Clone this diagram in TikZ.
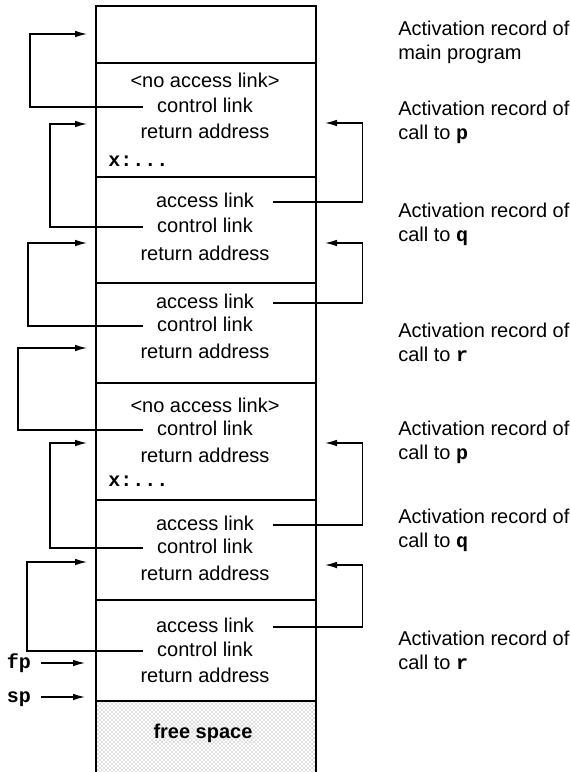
\documentclass[tikz,border=0pt]{standalone}
\usepackage{fontspec}
\setmainfont{Liberation Sans}
\newfontfamily\codefont{Liberation Mono}
\usetikzlibrary{arrows.meta,patterns}

\tikzset{
  rectxt/.style={inner sep=0pt, font=\fontsize{15}{18}\selectfont, text height=11pt, text depth=3pt},
  sidetxt/.style={anchor=west, inner sep=0pt, align=left, font=\fontsize{15}{18}\selectfont},
  codetxt/.style={inner sep=0pt, font=\fontsize{15}{18}\selectfont\codefont\bfseries, text height=11pt, text depth=3pt},
  link/.style={line width=1pt, -{Latex[length=9pt,width=5pt]}},
  frame/.style={line width=1.2pt},
}

\begin{document}
\begin{tikzpicture}[x=0.75pt,y=0.75pt,yscale=-1,xscale=1]
\useasboundingbox (0,0) rectangle (570,772);

%Shape: Free space
\fill [pattern=crosshatch dots, pattern color=black!55] (96,701) rectangle (316,772) ;
%Straight Lines
\draw [frame] (96,772) -- (96,6) -- (316,6) -- (316,772) ;
%Straight Lines
\draw [frame] (96,63) -- (316,63) ;
\draw [frame] (96,177) -- (316,177) ;
\draw [frame] (96,283) -- (316,283) ;
\draw [frame] (96,383) -- (316,383) ;
\draw [frame] (96,500) -- (316,500) ;
\draw [frame] (96,600) -- (316,600) ;
\draw [frame] (96,701) -- (316,701) ;

% Arrow ends
\coordinate (main-in) at (87,34) ;
\coordinate (p1-in) at (87,124) ;
\coordinate (q1-in) at (87,243) ;
\coordinate (r1-in) at (87,348) ;
\coordinate (p2-in) at (87,443) ;
\coordinate (q2-in) at (87,562) ;
\coordinate (p1-acc) at (325,123) ;
\coordinate (q1-acc) at (325,243) ;
\coordinate (p2-acc) at (325,443) ;
\coordinate (q2-acc) at (325,565) ;
\coordinate (fp-in) at (85,663) ;
\coordinate (sp-in) at (85,697) ;

% Text Node
\node (na1) at (205,82) [rectxt] {<no access link>};
% Text Node
\node (cl1) at (205,107) [rectxt] {control link};
% Text Node
\node (ra1) at (205,133) [rectxt] {return address};
% Text Node
\node (x1) at (108,161) [codetxt, anchor=west] {x:...};

% Text Node
\node (al2) at (205,202) [rectxt] {access link};
% Text Node
\node (cl2) at (205,227) [rectxt] {control link};
% Text Node
\node (ra2) at (205,255) [rectxt] {return address};

% Text Node
\node (al3) at (205,303) [rectxt] {access link};
% Text Node
\node (cl3) at (205,326) [rectxt] {control link};
% Text Node
\node (ra3) at (205,353) [rectxt] {return address};

% Text Node
\node (na4) at (205,407) [rectxt] {<no access link>};
% Text Node
\node (cl4) at (205,430) [rectxt] {control link};
% Text Node
\node (ra4) at (205,457) [rectxt] {return address};
% Text Node
\node (x4) at (108,481) [codetxt, anchor=west] {x:...};

% Text Node
\node (al5) at (205,525) [rectxt] {access link};
% Text Node
\node (cl5) at (205,548) [rectxt] {control link};
% Text Node
\node (ra5) at (205,575) [rectxt] {return address};

% Text Node
\node (al6) at (205,627) [rectxt] {access link};
% Text Node
\node (cl6) at (205,651) [rectxt] {control link};
% Text Node
\node (ra6) at (205,677) [rectxt] {return address};

% Text Node
\node (free) at (203,733) [rectxt, font=\fontsize{15}{18}\selectfont\bfseries] {free space};

% Text Node
\node (fp) at (19,663) [codetxt] {fp};
% Text Node
\node (sp) at (19,697) [codetxt] {sp};

% Text Node
\node (lbl-main) at (398,42) [sidetxt] {Activation record of\\main program};
% Text Node
\node (lbl-p1) at (398,122) [sidetxt] {Activation record of\\call to {\codefont\bfseries p}};
% Text Node
\node (lbl-q1) at (398,224) [sidetxt] {Activation record of\\call to {\codefont\bfseries q}};
% Text Node
\node (lbl-r1) at (398,342) [sidetxt] {Activation record of\\call to {\codefont\bfseries r}};
% Text Node
\node (lbl-p2) at (398,442) [sidetxt] {Activation record of\\call to {\codefont\bfseries p}};
% Text Node
\node (lbl-q2) at (398,530) [sidetxt] {Activation record of\\call to {\codefont\bfseries q}};
% Text Node
\node (lbl-r2) at (398,650) [sidetxt] {Activation record of\\call to {\codefont\bfseries r}};

%Straight Lines (control links)
\draw [link, shorten <=10.5pt] (cl1.west) -- ++(-127,0) |- (main-in) ;
\draw [link, shorten <=10.5pt] (cl2.west) -- ++(-107,0) |- (p1-in) ;
\draw [link, shorten <=10.5pt] (cl3.west) -- ++(-129,0) |- (q1-in) ;
\draw [link, shorten <=10.5pt] (cl4.west) -- ++(-139,0) |- (r1-in) ;
\draw [link, shorten <=10.5pt] (cl5.west) -- ++(-107,0) |- (p2-in) ;
\draw [link, shorten <=10.5pt] (cl6.west) -- ++(-130,0) |- (q2-in) ;

%Straight Lines (access links)
\draw [link, shorten <=14pt] (al2.east) -- ++(108,0) |- (p1-acc) ;
\draw [link, shorten <=14pt] (al3.east) -- ++(108,0) |- (q1-acc) ;
\draw [link, shorten <=14pt] (al5.east) -- ++(108,0) |- (p2-acc) ;
\draw [link, shorten <=14pt] (al6.east) -- ++(108,0) |- (q2-acc) ;

%Straight Lines (fp, sp)
\draw [link, shorten <=7pt] (fp.east) -- (fp-in) ;
\draw [link, shorten <=7pt] (sp.east) -- (sp-in) ;

\end{tikzpicture}
\end{document}
